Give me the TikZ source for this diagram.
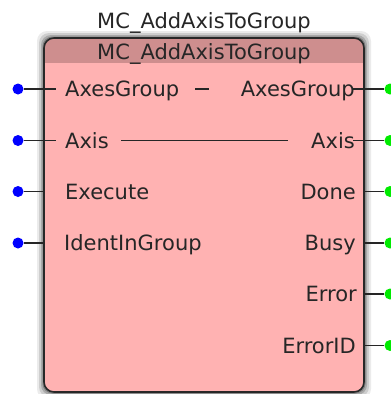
\documentclass[tikz,border=0pt]{standalone}
\usepackage{fontspec}
\setmainfont{DejaVu Sans}
\definecolor{bodyc}{RGB}{255,178,178}
\definecolor{headc}{RGB}{206,142,142}
\definecolor{inblue}{RGB}{0,0,255}
\definecolor{outgreen}{RGB}{0,235,0}
\definecolor{edgec}{RGB}{40,40,40}
\tikzset{
  lbl/.style={inner sep=0pt, font=\fontsize{21}{24}\selectfont, text=black!85},
  indot/.style={circle, fill=inblue, inner sep=0pt, minimum size=11pt},
  outdot/.style={circle, fill=outgreen, inner sep=0pt, minimum size=11pt},
  wire/.style={draw=black!85, line width=1.2pt},
  boxframe/.style={draw=edgec, line width=1.6pt, rounded corners=10pt, inner sep=0pt,
    minimum width=320pt, minimum height=354pt}
}
\begin{document}
\begin{tikzpicture}[x=1pt,y=-1pt]
\useasboundingbox (0,0) rectangle (391,394);
% shadow
\foreach \d/\o in {7/0.08,5/0.12,3/0.18,1.5/0.25}
  \fill[black,opacity=\o,rounded corners=10pt] (44-\d,38-\d) rectangle (364+\d,392+\d);
% body
\fill[bodyc,rounded corners=10pt] (44,38) rectangle (364,392);
\begin{scope}
  \clip[rounded corners=10pt] (44,38) rectangle (364,392);
  \fill[headc] (44,38) rectangle (364,63);
\end{scope}
\node (box) [boxframe] at (204,215) {};
% titles
\node (title) [lbl, anchor=base] at (204,28.3) {MC\_AddAxisToGroup};
\node (header) [lbl, anchor=base] at (204,59) {MC\_AddAxisToGroup};
% input labels
\node (iAG) [lbl, anchor=base west] at (65,96.5) {AxesGroup};
\node (iAx) [lbl, anchor=base west] at (65,148) {Axis};
\node (iEx) [lbl, anchor=base west] at (65,199) {Execute};
\node (iId) [lbl, anchor=base west] at (64,250.5) {IdentInGroup};
% output labels
\node (oAG) [lbl, anchor=base east] at (355,96.5) {AxesGroup};
\node (oAx) [lbl, anchor=base east] at (355,148) {Axis};
\node (oDn) [lbl, anchor=base east] at (356,199) {Done};
\node (oBy) [lbl, anchor=base east] at (356,250.5) {Busy};
\node (oEr) [lbl, anchor=base east] at (357,301.5) {Error};
\node (oEI) [lbl, anchor=base east] at (356,353) {ErrorID};
% input dots
\node (dAG) [indot] at (18,89) {};
\node (dAx) [indot] at (18,140.5) {};
\node (dEx) [indot] at (18,191.5) {};
\node (dId) [indot] at (18,243) {};
% output dots
\node (gAG) [outdot] at (390,89) {};
\node (gAx) [outdot] at (390,140.5) {};
\node (gDn) [outdot] at (390,191.5) {};
\node (gBy) [outdot] at (390,243) {};
\node (gEr) [outdot] at (390,294) {};
\node (gEI) [outdot] at (390,345.5) {};
% pass-through coordinates
\coordinate (aAG) at (56,89);
\coordinate (aAx) at (56,140.5);
\coordinate (dashL) at (195,89);
\coordinate (dashR) at (209,89);
\coordinate (axL) at (121,140.5);
\coordinate (axR) at (288,140.5);
\coordinate (eAGr) at (353,89);
\coordinate (eAxr) at (353,140.5);
% input wires
\draw[wire] (dAG) -- (aAG);
\draw[wire] (dAx) -- (aAx);
\draw[wire] (dEx) -- (box.west |- dEx);
\draw[wire] (dId) -- (box.west |- dId);
% through lines
\draw[wire] (dashL) -- (dashR);
\draw[wire] (axL) -- (axR);
% output wires
\draw[wire] (eAGr) -- (gAG);
\draw[wire] (eAxr) -- (gAx);
\draw[wire] (box.east |- gDn) -- (gDn);
\draw[wire] (box.east |- gBy) -- (gBy);
\draw[wire] (box.east |- gEr) -- (gEr);
\draw[wire] (box.east |- gEI) -- (gEI);
\end{tikzpicture}
\end{document}
